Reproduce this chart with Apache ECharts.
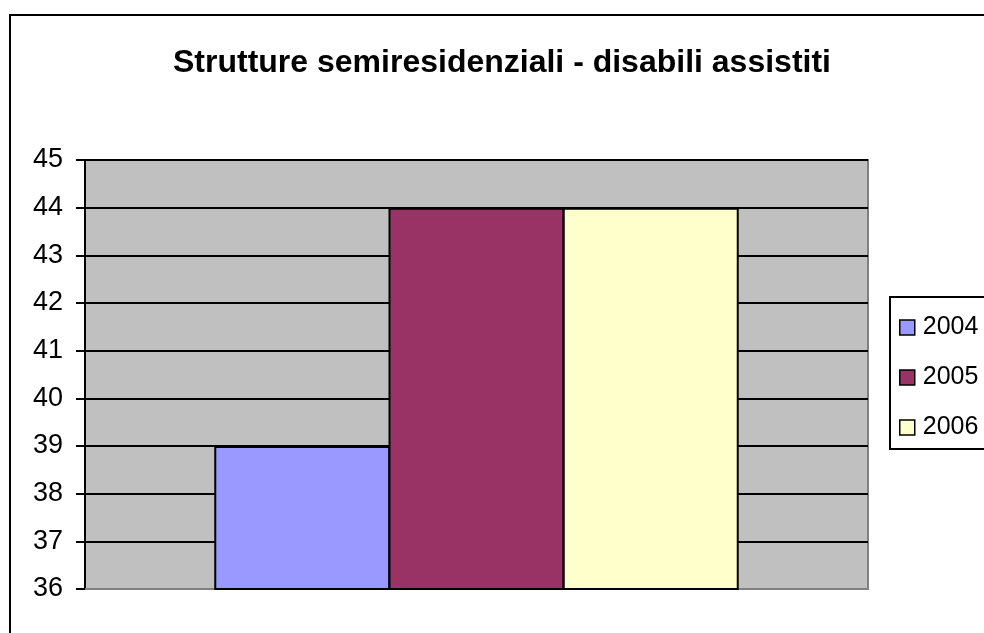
<!DOCTYPE html>
<html lang="it">

<head>
    <meta charset="UTF-8">
    <title>Strutture semiresidenziali - disabili assistiti</title>
    <style>
        * {
            margin: 0;
            padding: 0;
            box-sizing: border-box;
        }

        html,
        body {
            height: 100%;
            background: #fff;
        }

        #box {
            width: 984px;
            height: 633px;
        }
    </style>
    <script src="https://cdn.jsdelivr.net/npm/echarts@6/dist/echarts.min.js"></script>
</head>

<body>
    <div id="box"></div>

    <script>
        // dati
        var categories = [''];
        var years = ['2004', '2005', '2006'];
        var values = [39, 44, 44];
        var colors = ['#9999FF', '#993366', '#FFFFCC'];
        var yTicks = [36, 37, 38, 39, 40, 41, 42, 43, 44, 45];

        var font = '"Liberation Sans", Arial, sans-serif';

        var myChart = echarts.init(document.getElementById('box'));

        var series = years.map(function (y, i) {
            return {
                name: y,
                type: 'bar',
                data: [values[i]],
                barWidth: 176,
                barGap: '-1%',
                itemStyle: {
                    color: colors[i],
                    borderColor: '#000',
                    borderWidth: 2
                }
            };
        });

        myChart.setOption({
            animation: false,
            graphic: [{
                type: 'rect',
                shape: { x: 10, y: 15, width: 1000, height: 700 },
                style: { fill: 'none', stroke: '#000', lineWidth: 2 },
                z: -10
            }],
            title: {
                text: 'Strutture semiresidenziali - disabili assistiti',
                left: 173,
                top: 47,
                padding: 0,
                textStyle: {
                    fontFamily: font,
                    fontWeight: 'bold',
                    fontSize: 32,
                    color: '#000'
                }
            },
            legend: {
                orient: 'vertical',
                left: 890,
                top: 297,
                padding: [18, 40, 9, 9],
                borderColor: '#000',
                borderWidth: 2,
                itemWidth: 15,
                itemHeight: 15,
                itemGap: 25,
                icon: 'rect',
                itemStyle: { borderColor: '#000', borderWidth: 1.5 },
                textStyle: {
                    fontFamily: font,
                    fontSize: 25,
                    lineHeight: 25,
                    color: '#000',
                    padding: [0, 0, 0, 3]
                },
                data: years
            },
            grid: {
                left: 85,
                right: 116,
                top: 160,
                bottom: 44,
                show: true,
                backgroundColor: '#C0C0C0',
                borderColor: '#808080',
                borderWidth: 2
            },
            xAxis: {
                type: 'category',
                data: categories,
                axisLine: { lineStyle: { color: '#808080', width: 2 } },
                axisTick: { show: false },
                axisLabel: { show: false }
            },
            yAxis: {
                type: 'value',
                min: yTicks[0],
                max: yTicks[yTicks.length - 1],
                interval: 1,
                axisLine: { show: true, lineStyle: { color: '#000', width: 2 } },
                axisTick: { show: true, length: 9, lineStyle: { color: '#000', width: 2 } },
                axisLabel: {
                    margin: 22,
                    fontFamily: font,
                    fontSize: 27,
                    color: '#000'
                },
                splitLine: { show: true, lineStyle: { color: '#000', width: 2 } }
            },
            series: series
        });

        window.onresize = function () {
            myChart.resize();
        };
    </script>
</body>

</html>
